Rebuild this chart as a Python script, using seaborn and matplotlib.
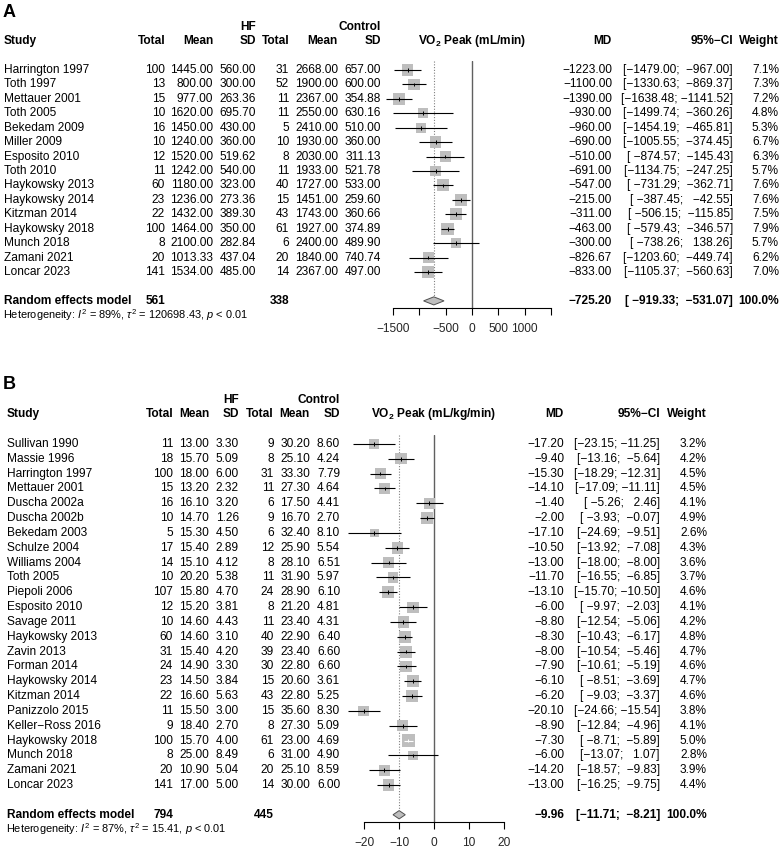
import matplotlib
matplotlib.use("Agg")
import matplotlib.pyplot as plt
import matplotlib.transforms as mtransforms
import numpy as np
import pandas as pd
import seaborn as sns

# ============================================================
# Data - Panel A: VO2 peak (mL/min)
# ============================================================
studies_a = ["Harrington 1997", "Toth 1997", "Mettauer 2001", "Toth 2005", "Bekedam 2009",
             "Miller 2009", "Esposito 2010", "Toth 2010", "Haykowsky 2013", "Haykowsky 2014",
             "Kitzman 2014", "Haykowsky 2018", "Munch 2018", "Zamani 2021", "Loncar 2023"]
hf_n_a = [100, 13, 15, 10, 16, 10, 12, 11, 60, 23, 22, 100, 8, 20, 141]
hf_mean_a = [1445.00, 800.00, 977.00, 1620.00, 1450.00, 1240.00, 1520.00, 1242.00, 1180.00,
             1236.00, 1432.00, 1464.00, 2100.00, 1013.33, 1534.00]
hf_sd_a = [560.00, 300.00, 263.36, 695.70, 430.00, 360.00, 519.62, 540.00, 323.00,
           273.36, 389.30, 350.00, 282.84, 437.04, 485.00]
ct_n_a = [31, 52, 11, 11, 5, 10, 8, 11, 40, 15, 43, 61, 6, 20, 14]
ct_mean_a = [2668.00, 1900.00, 2367.00, 2550.00, 2410.00, 1930.00, 2030.00, 1933.00, 1727.00,
             1451.00, 1743.00, 1927.00, 2400.00, 1840.00, 2367.00]
ct_sd_a = [657.00, 600.00, 354.88, 630.16, 510.00, 360.00, 311.13, 521.78, 533.00,
           259.60, 360.66, 374.89, 489.90, 740.74, 497.00]
md_a = [-1223.00, -1100.00, -1390.00, -930.00, -960.00, -690.00, -510.00, -691.00, -547.00,
        -215.00, -311.00, -463.00, -300.00, -826.67, -833.00]
lo_a = [-1479.00, -1330.63, -1638.48, -1499.74, -1454.19, -1005.55, -874.57, -1134.75, -731.29,
        -387.45, -506.15, -579.43, -738.26, -1203.60, -1105.37]
hi_a = [-967.00, -869.37, -1141.52, -360.26, -465.81, -374.45, -145.43, -247.25, -362.71,
        -42.55, -115.85, -346.57, 138.26, -449.74, -560.63]
w_a = [7.1, 7.3, 7.2, 4.8, 5.3, 6.7, 6.3, 5.7, 7.6, 7.6, 7.5, 7.9, 5.7, 6.2, 7.0]
summary_a = (-725.20, -919.33, -531.07)
totals_a = (561, 338)
het_a = ("89%", "120698.43", "0.01")

# ============================================================
# Data - Panel B: VO2 peak (mL/kg/min)
# ============================================================
studies_b = ["Sullivan 1990", "Massie 1996", "Harrington 1997", "Mettauer 2001", "Duscha 2002a",
             "Duscha 2002b", "Bekedam 2003", "Schulze 2004", "Williams 2004", "Toth 2005",
             "Piepoli 2006", "Esposito 2010", "Savage 2011", "Haykowsky 2013", "Zavin 2013",
             "Forman 2014", "Haykowsky 2014", "Kitzman 2014", "Panizzolo 2015", "Keller\u2212Ross 2016",
             "Haykowsky 2018", "Munch 2018", "Zamani 2021", "Loncar 2023"]
hf_n_b = [11, 18, 100, 15, 16, 10, 5, 17, 14, 10, 107, 12, 10, 60, 31, 24, 23, 22, 11, 9, 100, 8, 20, 141]
hf_mean_b = [13.00, 15.70, 18.00, 13.20, 16.10, 14.70, 15.30, 15.40, 15.10, 20.20, 15.80, 15.20,
             14.60, 14.60, 15.40, 14.90, 14.50, 16.60, 15.50, 18.40, 15.70, 25.00, 10.90, 17.00]
hf_sd_b = [3.30, 5.09, 6.00, 2.32, 3.20, 1.26, 4.50, 2.89, 4.12, 5.38, 4.70, 3.81,
           4.43, 3.10, 4.20, 3.30, 3.84, 5.63, 3.00, 2.70, 4.00, 8.49, 5.04, 5.00]
ct_n_b = [9, 8, 31, 11, 6, 9, 6, 12, 8, 11, 24, 8, 11, 40, 39, 30, 15, 43, 15, 8, 61, 6, 20, 14]
ct_mean_b = [30.20, 25.10, 33.30, 27.30, 17.50, 16.70, 32.40, 25.90, 28.10, 31.90, 28.90, 21.20,
             23.40, 22.90, 23.40, 22.80, 20.60, 22.80, 35.60, 27.30, 23.00, 31.00, 25.10, 30.00]
ct_sd_b = [8.60, 4.24, 7.79, 4.64, 4.41, 2.70, 8.10, 5.54, 6.51, 5.97, 6.10, 4.81,
           4.31, 6.40, 6.60, 6.60, 3.61, 5.25, 8.30, 5.09, 4.69, 4.90, 8.59, 6.00]
md_b = [-17.20, -9.40, -15.30, -14.10, -1.40, -2.00, -17.10, -10.50, -13.00, -11.70, -13.10, -6.00,
        -8.80, -8.30, -8.00, -7.90, -6.10, -6.20, -20.10, -8.90, -7.30, -6.00, -14.20, -13.00]
lo_b = [-23.15, -13.16, -18.29, -17.09, -5.26, -3.93, -24.69, -13.92, -18.00, -16.55, -15.70, -9.97,
        -12.54, -10.43, -10.54, -10.61, -8.51, -9.03, -24.66, -12.84, -8.71, -13.07, -18.57, -16.25]
hi_b = [-11.25, -5.64, -12.31, -11.11, 2.46, -0.07, -9.51, -7.08, -8.00, -6.85, -10.50, -2.03,
        -5.06, -6.17, -5.46, -5.19, -3.69, -3.37, -15.54, -4.96, -5.89, 1.07, -9.83, -9.75]
w_b = [3.2, 4.2, 4.5, 4.5, 4.1, 4.9, 2.6, 4.3, 3.6, 3.7, 4.6, 4.1,
       4.2, 4.8, 4.7, 4.6, 4.7, 4.6, 3.8, 4.1, 5.0, 2.8, 3.9, 4.4]
summary_b = (-9.96, -11.71, -8.21)
totals_b = (794, 445)
het_b = ("87%", "15.41", "0.01")

# ============================================================
# Style / layout (pixels)
# ============================================================
W, H = 782, 851
MINUS = "\u2212"
FS = 8.6
SQ_GREY = "#bebebe"

sns.set_theme(style="white")
plt.rcParams["font.family"] = ["Liberation Sans", "DejaVu Sans"]
plt.rcParams["mathtext.fontset"] = "custom"
plt.rcParams["mathtext.rm"] = "Liberation Sans"
plt.rcParams["mathtext.it"] = "Liberation Sans:italic"
plt.rcParams["mathtext.bf"] = "Liberation Sans:bold"

layout_a = dict(letter="A", row0=70, step=14.43, xpx=(393, 551), xlim=(-1500, 1500),
                xticks=[-1500, -1000, -500, 0, 500, 1000, 1500],
                xticklabels=["-1500", "", "-500", "0", "500", "1000", ""],
                cols=dict(study=4, hf_n=165, hf_mean=213, hf_sd=256, ct_n=289, ct_mean=338,
                          ct_sd=381, md=612, ci=733, w=779),
                title="VO$_{\\mathbf{2}}$ Peak (mL/min)", title_x=472)
layout_b = dict(letter="B", row0=444, step=14.83, xpx=(364, 504), xlim=(-20, 20),
                xticks=[-20, -10, 0, 10, 20],
                xticklabels=["-20", "-10", "0", "10", "20"],
                cols=dict(study=7, hf_n=173, hf_mean=209, hf_sd=239, ct_n=274, ct_mean=310,
                          ct_sd=340, md=564, ci=660, w=707),
                title="VO$_{\\mathbf{2}}$ Peak (mL/kg/min)", title_x=434)


def fmt(v):
    return f"{v:.2f}".replace("-", MINUS)


def ci_text(lo, hi, width):
    return "[" + fmt(lo).rjust(width) + "; " + fmt(hi).rjust(width) + "]"


fig = plt.figure(figsize=(W / 100, H / 100), dpi=100)


def draw_panel(df, summary, totals, het, L):
    n = len(df)
    y_sum = n + 1
    top_px = L["row0"] - 0.6 * L["step"]
    bot_px = L["row0"] + (y_sum + 0.5) * L["step"]
    x0, x1 = L["xpx"]
    ax = fig.add_axes([x0 / W, 1 - bot_px / H, (x1 - x0) / W, (bot_px - top_px) / H])
    ax.patch.set_alpha(0)

    df = df.assign(y=np.arange(n))
    px_per_unit = (x1 - x0) / (L["xlim"][1] - L["xlim"][0])
    wmax = df["w"].max()
    side_px = 12.3 * np.sqrt(df["w"] / wmax)
    inside = (df["hi"] - df["lo"]) * px_per_unit < side_px * 0.95
    line_cols = np.where(inside, "white", "black")

    # squares sized by weight (area proportional)
    sns.scatterplot(data=df, x="md", y="y", size="w", sizes=(0, (12.3 * 0.72) ** 2),
                    size_norm=(0, wmax), marker="s", color=SQ_GREY, linewidth=0,
                    legend=False, ax=ax, clip_on=False, zorder=2)
    # confidence intervals + point tick
    ax.hlines(df["y"], df["lo"], df["hi"], colors=line_cols, lw=0.8, clip_on=False, zorder=3)
    ax.scatter(df["md"], df["y"], marker="|", s=7, c=line_cols, linewidths=0.7,
               clip_on=False, zorder=4)

    # reference lines
    ax.axvline(0, color="#606060", lw=1.0, zorder=1)
    est, slo, shi = summary
    ax.vlines(est, -0.6, y_sum - 0.3, colors="#808080", lw=0.8,
              linestyles=(0, (1, 1.5)), zorder=1)
    h = 0.28
    ax.fill([slo, est, shi, est], [y_sum, y_sum - h, y_sum, y_sum + h],
            facecolor=SQ_GREY, edgecolor="#505050", lw=0.7, zorder=3)

    ax.set_xlim(L["xlim"])
    ax.set_ylim(y_sum + 0.5, -0.6)
    ax.set(xlabel="", ylabel="")
    ax.set_yticks([])
    for s in ["left", "right", "top"]:
        ax.spines[s].set_visible(False)
    ax.spines["bottom"].set_bounds(*L["xlim"])
    ax.spines["bottom"].set_color("black")
    ax.spines["bottom"].set_linewidth(0.8)
    ax.set_xticks(L["xticks"])
    ax.set_xticklabels([t.replace("-", MINUS) for t in L["xticklabels"]])
    ax.tick_params(axis="x", bottom=True, direction="out", length=5, width=0.8,
                   color="black", labelsize=FS, pad=6)

    # table text
    tr = mtransforms.blended_transform_factory(fig.transFigure, ax.transData)
    C = L["cols"]

    def put(xpx, y, s, ha="right", bold=False, size=FS):
        fig.text(xpx / W, y, s, transform=tr, ha=ha, va="center", fontsize=size,
                 fontweight="bold" if bold else "normal", color="black")

    put(3, -4, L["letter"], ha="left", bold=True, size=13)
    put(C["hf_sd"], -3, "HF", bold=True)
    put(C["ct_sd"], -3, "Control", bold=True)
    put(C["study"], -2, "Study", ha="left", bold=True)
    for key, lab in [("hf_n", "Total"), ("hf_mean", "Mean"), ("hf_sd", "SD"),
                     ("ct_n", "Total"), ("ct_mean", "Mean"), ("ct_sd", "SD"),
                     ("md", "MD"), ("ci", "95%" + MINUS + "CI"), ("w", "Weight")]:
        put(C[key], -2, lab, bold=True)
    put(L["title_x"], -2, L["title"], ha="center", bold=True)

    width = max(len(fmt(v)) for v in list(df["lo"]) + list(df["hi"]))
    for _, r in df.iterrows():
        y = r["y"]
        put(C["study"], y, r["study"], ha="left")
        put(C["hf_n"], y, f"{int(r['hf_n'])}")
        put(C["hf_mean"], y, fmt(r["hf_mean"]))
        put(C["hf_sd"], y, fmt(r["hf_sd"]))
        put(C["ct_n"], y, f"{int(r['ct_n'])}")
        put(C["ct_mean"], y, fmt(r["ct_mean"]))
        put(C["ct_sd"], y, fmt(r["ct_sd"]))
        put(C["md"], y, fmt(r["md"]))
        put(C["ci"], y, ci_text(r["lo"], r["hi"], width))
        put(C["w"], y, f"{r['w']:.1f}%")

    put(C["study"], y_sum, "Random effects model", ha="left", bold=True)
    put(C["hf_n"], y_sum, str(totals[0]), bold=True)
    put(C["ct_n"], y_sum, str(totals[1]), bold=True)
    put(C["md"], y_sum, fmt(est), bold=True)
    put(C["ci"], y_sum, ci_text(slo, shi, width), bold=True)
    put(C["w"], y_sum, "100.0%", bold=True)
    i2, tau2, p = het
    put(C["study"] - 1, y_sum + 1,
        f"Heterogeneity: $I^2$ = {i2}, $\\tau^2$ = {tau2}, $p$ < {p}",
        ha="left", size=7.9)
    return ax


df_a = pd.DataFrame(dict(study=studies_a, hf_n=hf_n_a, hf_mean=hf_mean_a, hf_sd=hf_sd_a,
                         ct_n=ct_n_a, ct_mean=ct_mean_a, ct_sd=ct_sd_a,
                         md=md_a, lo=lo_a, hi=hi_a, w=w_a))
df_b = pd.DataFrame(dict(study=studies_b, hf_n=hf_n_b, hf_mean=hf_mean_b, hf_sd=hf_sd_b,
                         ct_n=ct_n_b, ct_mean=ct_mean_b, ct_sd=ct_sd_b,
                         md=md_b, lo=lo_b, hi=hi_b, w=w_b))

draw_panel(df_a, summary_a, totals_a, het_a, layout_a)
draw_panel(df_b, summary_b, totals_b, het_b, layout_b)

fig.savefig("out.png", dpi=100)
plt.close(fig)
